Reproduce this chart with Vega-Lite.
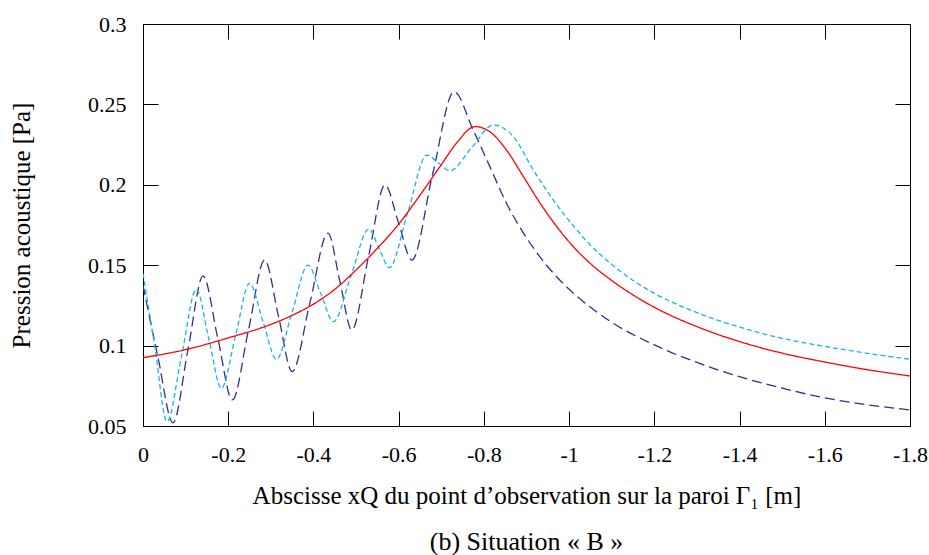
{
  "$schema": "https://vega.github.io/schema/vega-lite/v6.json",
  "width": 767,
  "height": 402,
  "autosize": {"type": "none"},
  "padding": {"left": 143, "top": 24, "right": 19, "bottom": 129},
  "background": "white",
  "config": {
    "view": {"stroke": "black", "strokeWidth": 1},
    "font": "Liberation Serif",
    "axis": {"labelFont": "Liberation Serif", "titleFont": "Liberation Serif", "labelColor": "black", "titleColor": "black", "titleFontWeight": "normal", "grid": false, "domain": false, "tickColor": "black", "tickWidth": 1, "tickSize": -15}
  },
  "title": {"text": "(b) Situation « B »", "orient": "bottom", "font": "Liberation Serif", "fontSize": 26, "fontWeight": "normal", "color": "black", "offset": 21, "anchor": "middle"},
  "data": {"values": [
    {"s": "n", "x": 0, "p": 0.1375}, {"s": "n", "x": -0.035, "p": 0.093}, {"s": "n", "x": -0.0704, "p": 0.052}, {"s": "n", "x": -0.1057, "p": 0.0977}, {"s": "n", "x": -0.141, "p": 0.1433}, {"s": "n", "x": -0.1754, "p": 0.1048}, {"s": "n", "x": -0.2097, "p": 0.0662}, {"s": "n", "x": -0.2476, "p": 0.1097}, {"s": "n", "x": -0.2855, "p": 0.1532}, {"s": "n", "x": -0.3178, "p": 0.1185}, {"s": "n", "x": -0.35, "p": 0.0838}, {"s": "n", "x": -0.392, "p": 0.127}, {"s": "n", "x": -0.434, "p": 0.17}, {"s": "n", "x": -0.462, "p": 0.14}, {"s": "n", "x": -0.49, "p": 0.1097}, {"s": "n", "x": -0.529, "p": 0.155}, {"s": "n", "x": -0.568, "p": 0.1999}, {"s": "n", "x": -0.5995, "p": 0.1765}, {"s": "n", "x": -0.631, "p": 0.1532}, {"s": "n", "x": -0.68, "p": 0.207}, {"s": "n", "x": -0.73, "p": 0.2579}, {"s": "n", "x": -0.775, "p": 0.234}, {"s": "n", "x": -0.814, "p": 0.2113}, {"s": "n", "x": -0.853, "p": 0.1885}, {"s": "n", "x": -0.893, "p": 0.17}, {"s": "n", "x": -0.932, "p": 0.155}, {"s": "n", "x": -0.979, "p": 0.1405}, {"s": "n", "x": -1.026, "p": 0.129}, {"s": "n", "x": -1.1, "p": 0.1145}, {"s": "n", "x": -1.2, "p": 0.1004}, {"s": "n", "x": -1.3, "p": 0.0895}, {"s": "n", "x": -1.4, "p": 0.0807}, {"s": "n", "x": -1.5, "p": 0.0735}, {"s": "n", "x": -1.6, "p": 0.0675}, {"s": "n", "x": -1.7, "p": 0.0632}, {"s": "n", "x": -1.8, "p": 0.06},
    {"s": "c", "x": 0, "p": 0.145}, {"s": "c", "x": -0.028, "p": 0.099}, {"s": "c", "x": -0.0563, "p": 0.0527}, {"s": "c", "x": -0.0907, "p": 0.0939}, {"s": "c", "x": -0.125, "p": 0.135}, {"s": "c", "x": -0.1545, "p": 0.1042}, {"s": "c", "x": -0.184, "p": 0.0734}, {"s": "c", "x": -0.217, "p": 0.106}, {"s": "c", "x": -0.25, "p": 0.1387}, {"s": "c", "x": -0.2815, "p": 0.1151}, {"s": "c", "x": -0.313, "p": 0.0915}, {"s": "c", "x": -0.35, "p": 0.1208}, {"s": "c", "x": -0.387, "p": 0.15}, {"s": "c", "x": -0.417, "p": 0.1325}, {"s": "c", "x": -0.447, "p": 0.1149}, {"s": "c", "x": -0.4885, "p": 0.1437}, {"s": "c", "x": -0.53, "p": 0.1725}, {"s": "c", "x": -0.554, "p": 0.1605}, {"s": "c", "x": -0.578, "p": 0.1485}, {"s": "c", "x": -0.622, "p": 0.1835}, {"s": "c", "x": -0.666, "p": 0.2185}, {"s": "c", "x": -0.693, "p": 0.2137}, {"s": "c", "x": -0.72, "p": 0.2088}, {"s": "c", "x": -0.771, "p": 0.223}, {"s": "c", "x": -0.822, "p": 0.2372}, {"s": "c", "x": -0.869, "p": 0.23}, {"s": "c", "x": -0.916, "p": 0.2092}, {"s": "c", "x": -0.963, "p": 0.1905}, {"s": "c", "x": -1.01, "p": 0.1745}, {"s": "c", "x": -1.05, "p": 0.1625}, {"s": "c", "x": -1.1, "p": 0.1505}, {"s": "c", "x": -1.15, "p": 0.1405}, {"s": "c", "x": -1.2, "p": 0.1325}, {"s": "c", "x": -1.3, "p": 0.1205}, {"s": "c", "x": -1.4, "p": 0.1115}, {"s": "c", "x": -1.5, "p": 0.1045}, {"s": "c", "x": -1.6, "p": 0.0995}, {"s": "c", "x": -1.7, "p": 0.0952}, {"s": "c", "x": -1.8, "p": 0.0915},
    {"s": "r", "x": 0, "p": 0.0925}, {"s": "r", "x": -0.1, "p": 0.0975}, {"s": "r", "x": -0.2, "p": 0.1048}, {"s": "r", "x": -0.3, "p": 0.1132}, {"s": "r", "x": -0.35, "p": 0.1188}, {"s": "r", "x": -0.4, "p": 0.1258}, {"s": "r", "x": -0.45, "p": 0.135}, {"s": "r", "x": -0.5, "p": 0.147}, {"s": "r", "x": -0.55, "p": 0.1605}, {"s": "r", "x": -0.6, "p": 0.1755}, {"s": "r", "x": -0.65, "p": 0.1935}, {"s": "r", "x": -0.7, "p": 0.2125}, {"s": "r", "x": -0.736, "p": 0.226}, {"s": "r", "x": -0.779, "p": 0.2362}, {"s": "r", "x": -0.814, "p": 0.233}, {"s": "r", "x": -0.853, "p": 0.2216}, {"s": "r", "x": -0.893, "p": 0.205}, {"s": "r", "x": -0.932, "p": 0.1885}, {"s": "r", "x": -0.971, "p": 0.174}, {"s": "r", "x": -1.01, "p": 0.1615}, {"s": "r", "x": -1.05, "p": 0.151}, {"s": "r", "x": -1.1, "p": 0.1405}, {"s": "r", "x": -1.15, "p": 0.1315}, {"s": "r", "x": -1.2, "p": 0.1238}, {"s": "r", "x": -1.3, "p": 0.1118}, {"s": "r", "x": -1.4, "p": 0.1025}, {"s": "r", "x": -1.5, "p": 0.0953}, {"s": "r", "x": -1.6, "p": 0.0898}, {"s": "r", "x": -1.7, "p": 0.085}, {"s": "r", "x": -1.8, "p": 0.0811}
  ]},
  "layer": [
    {
      "mark": {"type": "line", "interpolate": "monotone", "strokeWidth": 1.3, "clip": true},
      "encoding": {
        "x": {"field": "x", "type": "quantitative", "scale": {"domain": [0, -1.8], "nice": false, "zero": false},
          "axis": {"orient": "bottom", "values": [0, -0.2, -0.4, -0.6, -0.8, -1, -1.2, -1.4, -1.6, -1.8], "labelExpr": "replace(format(datum.value, '~g'), '\u2212', '-')", "labelFontSize": 22, "labelPadding": 33, "labelFlush": false, "title": "Abscisse xQ du point d’observation sur la paroi Γ₁  [m]", "titleFontSize": 25, "titlePadding": 18}},
        "y": {"field": "p", "type": "quantitative", "scale": {"domain": [0.05, 0.3], "nice": false, "zero": false},
          "axis": {"orient": "left", "values": [0.05, 0.1, 0.15, 0.2, 0.25, 0.3], "format": "~g", "labelFontSize": 22, "labelPadding": 32, "labelFlush": false, "title": "Pression acoustique  [Pa]", "titleFontSize": 25, "titlePadding": 53}},
        "color": {"field": "s", "type": "nominal", "scale": {"domain": ["n", "c", "r"], "range": ["#30308f", "#1ab3e8", "#ff0000"]}, "legend": null},
        "strokeDash": {"field": "s", "type": "nominal", "scale": {"domain": ["n", "c", "r"], "range": [[10, 5], [5, 3], [1, 0]]}, "legend": null},
        "order": {"field": "x", "type": "quantitative", "sort": "descending"}
      }
    },
    {
      "mark": {"type": "line", "opacity": 0},
      "encoding": {
        "x": {"field": "x", "type": "quantitative", "axis": {"orient": "top", "values": [0, -0.2, -0.4, -0.6, -0.8, -1, -1.2, -1.4, -1.6, -1.8], "labels": false, "title": null}},
        "y": {"field": "p", "type": "quantitative", "axis": {"orient": "right", "values": [0.05, 0.1, 0.15, 0.2, 0.25, 0.3], "labels": false, "title": null}},
        "detail": {"field": "s"}
      }
    }
  ],
  "resolve": {"axis": {"x": "independent", "y": "independent"}}
}
